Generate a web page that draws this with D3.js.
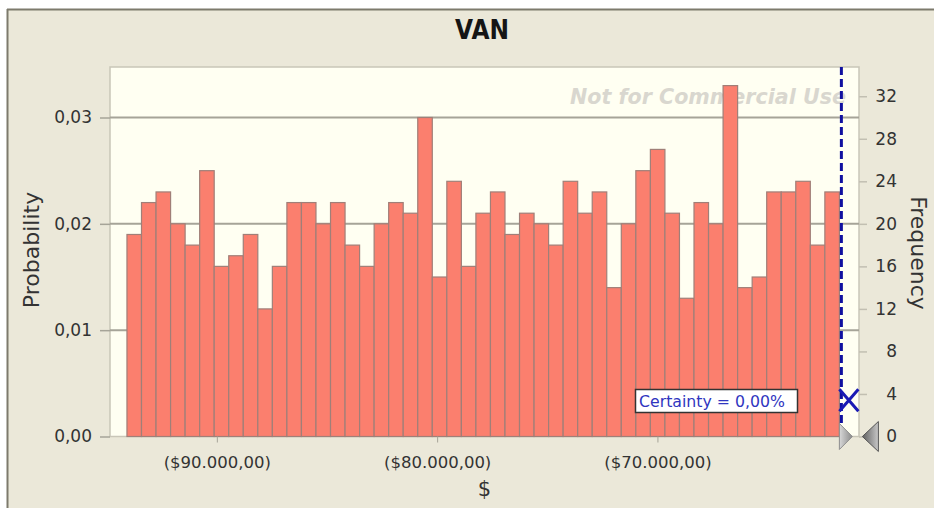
<!DOCTYPE html>
<html>
<head>
<meta charset="utf-8">
<script src="https://cdn.jsdelivr.net/npm/d3@7"></script>
<style>
  html, body { margin: 0; padding: 0; background: #ffffff; }
  svg { display: block; }
  text { font-family: "DejaVu Sans", Verdana, sans-serif; }
</style>
</head>
<body>
<svg id="chart" width="934" height="508"></svg>
<script>
// Simulated VAN forecast: 1000 trials grouped into 49 bins
const binStart = -94080;
const binWidth = 660;
const frequencies = [
  19, 22, 23, 20, 18, 25, 16, 17, 19, 12,
  16, 22, 22, 20, 22, 18, 16, 20, 22, 21,
  30, 15, 24, 16, 21, 23, 19, 21, 20, 18,
  24, 21, 23, 14, 20, 25, 27, 21, 13, 22,
  20, 33, 14, 15, 23, 23, 24, 18, 23
];
const trials = 1000;
const probTicks = [0, 0.01, 0.02, 0.03];
const probTickLabels = ["0,00", "0,01", "0,02", "0,03"];
const freqTicks = [0, 4, 8, 12, 16, 20, 24, 28, 32];
const valueTicks = [-90000, -80000, -70000];
const valueTickLabels = ["($90.000,00)", "($80.000,00)", "($70.000,00)"];
const certaintyValue = -61650;
const certaintyText = "Certainty = 0,00%";

const bins = frequencies.map((f, i) => ({
  x0: binStart + i * binWidth,
  x1: binStart + (i + 1) * binWidth,
  freq: f
}));

const svg = d3.select("#chart");
const W = 934, H = 508;
const plot = { left: 110, right: 859, top: 67, bottom: 436.5 };
const tickFont = "DejaVu Sans, Verdana, sans-serif";

const x = d3.scaleLinear().domain([-94850, -60850]).range([plot.left, plot.right]);
const yFreq = d3.scaleLinear().domain([0, 34.75]).range([plot.bottom, plot.top]);
const yProb = d3.scaleLinear().domain([0, 34.75 / trials]).range([plot.bottom, plot.top]);

// window background and frame
svg.append("rect").attr("width", W).attr("height", H).attr("fill", "#ffffff");
svg.append("rect").attr("x", 7).attr("y", 9).attr("width", W - 7).attr("height", H - 9).attr("fill", "#ebe8d9");
svg.append("line").attr("x1", 7).attr("x2", W).attr("y1", 9.5).attr("y2", 9.5)
  .attr("stroke", "#7d7a6c").attr("stroke-width", 2);
svg.append("line").attr("x1", 7.5).attr("x2", 7.5).attr("y1", 9).attr("y2", H)
  .attr("stroke", "#7d7a6c").attr("stroke-width", 2);

// title
svg.append("text").attr("x", 482).attr("y", 39).attr("text-anchor", "middle")
  .attr("font-family", "Liberation Sans, Arial, sans-serif")
  .attr("font-size", 26).attr("font-weight", "bold").attr("fill", "#151515")
  .attr("textLength", 54).attr("lengthAdjust", "spacingAndGlyphs")
  .text("VAN");

// plot area
svg.append("rect").attr("x", plot.left).attr("y", plot.top)
  .attr("width", plot.right - plot.left).attr("height", plot.bottom - plot.top)
  .attr("fill", "#fffff2").attr("stroke", "#c9c6b8").attr("stroke-width", 1.5);

// gridlines
svg.append("g").selectAll("line").data(probTicks.slice(1)).join("line")
  .attr("x1", plot.left).attr("x2", plot.right)
  .attr("y1", d => yProb(d)).attr("y2", d => yProb(d))
  .attr("stroke", "#a6a498").attr("stroke-width", 2);

// watermark
svg.append("text").attr("x", 846).attr("y", 104).attr("text-anchor", "end")
  .attr("font-family", "Liberation Sans, Arial, sans-serif")
  .attr("font-size", 21).attr("font-style", "italic").attr("font-weight", "bold")
  .attr("fill", "#d9d7cf").attr("textLength", 276).attr("lengthAdjust", "spacingAndGlyphs")
  .text("Not for Commercial Use");

// histogram bars
svg.append("g").selectAll("rect").data(bins).join("rect")
  .attr("x", d => x(d.x0))
  .attr("y", d => yFreq(d.freq))
  .attr("width", d => x(d.x1) - x(d.x0))
  .attr("height", d => yFreq(0) - yFreq(d.freq))
  .attr("fill", "#fb7f6e")
  .attr("stroke", "#a07f78")
  .attr("stroke-width", 1.2);

// left axis (probability)
const leftAxis = svg.append("g").attr("transform", `translate(${plot.left},0)`)
  .call(d3.axisLeft(yProb).tickValues(probTicks).tickSize(10)
    .tickFormat((d, i) => probTickLabels[i]));
leftAxis.select(".domain").remove();
leftAxis.selectAll("line").attr("stroke", "#a6a498").attr("stroke-width", 1.5);
leftAxis.selectAll("text").attr("font-size", 17).attr("fill", "#333")
  .attr("font-family", tickFont).attr("x", -18);

// right axis (frequency)
const rightAxis = svg.append("g").attr("transform", `translate(${plot.right},0)`)
  .call(d3.axisRight(yFreq).tickValues(freqTicks).tickSize(8));
rightAxis.select(".domain").remove();
rightAxis.selectAll("line").attr("stroke", "#c2bfb2").attr("stroke-width", 1.5);
rightAxis.selectAll("text").attr("font-size", 17).attr("fill", "#333")
  .attr("font-family", tickFont).attr("text-anchor", "end").attr("x", 38);

// bottom axis (value)
const bottomAxis = svg.append("g").attr("transform", `translate(0,${plot.bottom})`)
  .call(d3.axisBottom(x).tickValues(valueTicks).tickSize(6)
    .tickFormat((d, i) => valueTickLabels[i]));
bottomAxis.select(".domain").remove();
bottomAxis.selectAll("line").attr("stroke", "#a6a498").attr("stroke-width", 1);
bottomAxis.selectAll("text").attr("font-size", 16.5).attr("fill", "#333")
  .attr("font-family", tickFont).attr("y", 20);

// axis titles
svg.append("text").attr("transform", "translate(39,250) rotate(-90)")
  .attr("text-anchor", "middle").attr("font-size", 22).attr("fill", "#333")
  .text("Probability");
svg.append("text").attr("transform", "translate(911,253) rotate(90)")
  .attr("text-anchor", "middle").attr("font-size", 22).attr("fill", "#333")
  .text("Frequency");
svg.append("text").attr("x", (plot.left + plot.right) / 2).attr("y", 496)
  .attr("text-anchor", "middle").attr("font-size", 21).attr("fill", "#333")
  .text("$");

// certainty marker line
const cx = x(certaintyValue);
svg.append("line").attr("x1", cx).attr("x2", cx).attr("y1", plot.top).attr("y2", plot.bottom)
  .attr("stroke", "#1010a0").attr("stroke-width", 3).attr("stroke-dasharray", "8,4");

// end-point cross
const crossY = yFreq(3.4);
svg.append("path")
  .attr("d", `M${cx - 2},${crossY - 11}L${cx + 17},${crossY + 11}M${cx + 17},${crossY - 11}L${cx - 2},${crossY + 11}`)
  .attr("stroke", "#1a1ab4").attr("stroke-width", 3).attr("fill", "none");

// grab handles
const defs = svg.append("defs");
const grad = defs.append("linearGradient").attr("id", "handle").attr("x1", 0).attr("x2", 1);
grad.append("stop").attr("offset", "0%").attr("stop-color", "#d8d8d8");
grad.append("stop").attr("offset", "100%").attr("stop-color", "#8a8a8a");
const grad2 = defs.append("linearGradient").attr("id", "handle2").attr("x1", 1).attr("x2", 0);
grad2.append("stop").attr("offset", "0%").attr("stop-color", "#c8c8c8");
grad2.append("stop").attr("offset", "100%").attr("stop-color", "#606060");
svg.append("path")
  .attr("d", `M${cx - 2},${plot.bottom - 13}L${cx + 11},${plot.bottom}L${cx - 2},${plot.bottom + 13}Z`)
  .attr("fill", "url(#handle)").attr("stroke", "#8e8e8e").attr("stroke-width", 1);
svg.append("path")
  .attr("d", `M${cx + 37},${plot.bottom - 15}L${cx + 21},${plot.bottom}L${cx + 37},${plot.bottom + 15}Z`)
  .attr("fill", "url(#handle2)").attr("stroke", "#555").attr("stroke-width", 1);

// certainty readout
svg.append("rect").attr("x", 635.5).attr("y", 389.5).attr("width", 162).attr("height", 23)
  .attr("fill", "#ffffff").attr("stroke", "#333").attr("stroke-width", 1.5);
svg.append("text").attr("x", 639).attr("y", 406.5).attr("font-size", 15)
  .attr("fill", "#2f35c0").attr("textLength", 146).attr("lengthAdjust", "spacingAndGlyphs")
  .text(certaintyText);
</script>
</body>
</html>
